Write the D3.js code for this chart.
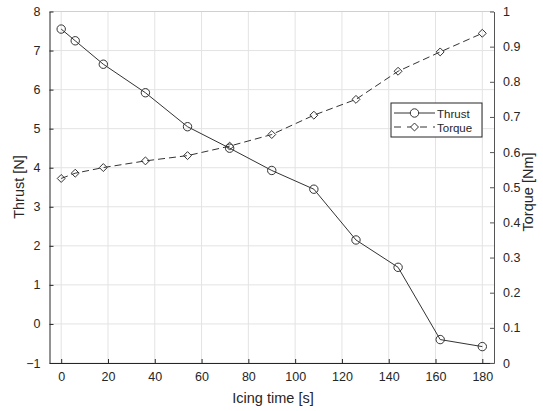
<!DOCTYPE html>
<html>
<head>
<meta charset="utf-8">
<script src="https://cdn.jsdelivr.net/npm/d3@7"></script>
<style>
  body { margin: 0; background: #fff; }
  svg { font-family: "Liberation Sans", Arial, sans-serif; }
</style>
</head>
<body>
<div id="chart"></div>
<script>
// Data
const icingTime = [0, 6, 18, 36, 54, 72, 90, 108, 126, 144, 162, 180];
const thrust = [7.55, 7.25, 6.65, 5.92, 5.05, 4.5, 3.93, 3.45, 2.15, 1.45, -0.4, -0.58];
const torque = [0.525, 0.54, 0.556, 0.575, 0.59, 0.617, 0.65, 0.705, 0.75, 0.83, 0.885, 0.938];
const xTicks = [0, 20, 40, 60, 80, 100, 120, 140, 160, 180];
const leftTicks = [-1, 0, 1, 2, 3, 4, 5, 6, 7, 8];
const rightTicks = [0, 0.1, 0.2, 0.3, 0.4, 0.5, 0.6, 0.7, 0.8, 0.9, 1];

const width = 543;
const height = 411;
const marginTop = 11.5;
const marginRight = 49;
const marginBottom = 48;
const marginLeft = 49.5;

const x = d3.scaleLinear([-5, 185], [marginLeft, width - marginRight]);
const yL = d3.scaleLinear([-1, 8], [height - marginBottom, marginTop]);
const yR = d3.scaleLinear([0, 1], [height - marginBottom, marginTop]);

const svg = d3.create("svg")
  .attr("width", width)
  .attr("height", height)
  .attr("viewBox", [0, 0, width, height]);

d3.select("#chart").append(() => svg.node());

// Grid lines
const grid = svg.append("g").attr("stroke", "#e3e3e3").attr("stroke-width", 1);
grid.selectAll("line.v").data(xTicks).join("line")
  .attr("x1", d => x(d)).attr("x2", d => x(d))
  .attr("y1", marginTop).attr("y2", height - marginBottom);
grid.selectAll("line.h").data(leftTicks).join("line")
  .attr("x1", marginLeft).attr("x2", width - marginRight)
  .attr("y1", d => yL(d)).attr("y2", d => yL(d));

// Top box line
svg.append("line")
  .attr("x1", marginLeft).attr("x2", width - marginRight)
  .attr("y1", marginTop).attr("y2", marginTop)
  .attr("stroke", "#d0d0d0");

// Axes
const tickFont = g => g.selectAll("text")
  .attr("font-size", 12.5).attr("fill", "#262626")
  .attr("font-family", "Liberation Sans, Arial, sans-serif");

svg.append("g")
  .attr("transform", `translate(0,${height - marginBottom})`)
  .call(d3.axisBottom(x).tickValues(xTicks).tickSize(-4).tickSizeOuter(0).tickPadding(9))
  .call(g => g.select(".domain").attr("stroke", "#262626"))
  .call(g => g.selectAll(".tick line").attr("stroke", "#262626"))
  .call(tickFont);

svg.append("g")
  .attr("transform", `translate(${marginLeft},0)`)
  .call(d3.axisLeft(yL).tickValues(leftTicks).tickSize(-4).tickSizeOuter(0).tickPadding(9))
  .call(g => g.select(".domain").attr("stroke", "#262626"))
  .call(g => g.selectAll(".tick line").attr("stroke", "#262626"))
  .call(tickFont);

svg.append("g")
  .attr("transform", `translate(${width - marginRight},0)`)
  .call(d3.axisRight(yR).tickValues(rightTicks).tickSize(-4).tickSizeOuter(0).tickPadding(9)
    .tickFormat(d => d === 0 || d === 1 ? d3.format("d")(d) : d3.format(".1f")(d)))
  .call(g => g.select(".domain").attr("stroke", "#555"))
  .call(g => g.selectAll(".tick line").attr("stroke", "#555"))
  .call(tickFont);

// Axis labels
svg.append("text")
  .attr("x", 273).attr("y", 403)
  .attr("text-anchor", "middle").attr("font-size", 14.5).attr("fill", "#262626")
  .text("Icing time [s]");

svg.append("text")
  .attr("transform", `translate(24,187) rotate(-90)`)
  .attr("text-anchor", "middle").attr("font-size", 14.5).attr("fill", "#262626")
  .text("Thrust [N]");

svg.append("text")
  .attr("transform", `translate(533,192) rotate(-90)`)
  .attr("text-anchor", "middle").attr("font-size", 14.5).attr("fill", "#262626")
  .text("Torque [Nm]");

// Series
const lineColor = "#333";
const thrustLine = d3.line().x((d, i) => x(icingTime[i])).y(d => yL(d));
const torqueLine = d3.line().x((d, i) => x(icingTime[i])).y(d => yR(d));

svg.append("path")
  .attr("fill", "none").attr("stroke", lineColor).attr("stroke-width", 1)
  .attr("d", thrustLine(thrust));

svg.append("path")
  .attr("fill", "none").attr("stroke", lineColor).attr("stroke-width", 1)
  .attr("stroke-dasharray", "7,4")
  .attr("d", torqueLine(torque));

svg.append("g").selectAll("circle").data(thrust).join("circle")
  .attr("cx", (d, i) => x(icingTime[i])).attr("cy", d => yL(d))
  .attr("r", 4.2).attr("fill", "none").attr("stroke", lineColor);

const diamond = d3.symbol(d3.symbolDiamond2, 40);
svg.append("g").selectAll("path").data(torque).join("path")
  .attr("transform", (d, i) => `translate(${x(icingTime[i])},${yR(d)})`)
  .attr("d", diamond()).attr("fill", "none").attr("stroke", lineColor);

// Legend
const lg = svg.append("g").attr("transform", "translate(391,103)");
lg.append("rect").attr("width", 91).attr("height", 34)
  .attr("fill", "#fff").attr("stroke", "#262626");
lg.append("line").attr("x1", 3).attr("x2", 44).attr("y1", 10).attr("y2", 10).attr("stroke", lineColor);
lg.append("circle").attr("cx", 23.5).attr("cy", 10).attr("r", 4.2).attr("fill", "#fff").attr("stroke", lineColor);
lg.append("line").attr("x1", 3).attr("x2", 44).attr("y1", 24).attr("y2", 24)
  .attr("stroke", lineColor).attr("stroke-dasharray", "7,6");
lg.append("path").attr("transform", "translate(23.5,24)").attr("d", diamond())
  .attr("fill", "#fff").attr("stroke", lineColor);
lg.append("text").attr("x", 46).attr("y", 14.5).attr("font-size", 11.5).attr("fill", "#262626").text("Thrust");
lg.append("text").attr("x", 46).attr("y", 28.5).attr("font-size", 11.5).attr("fill", "#262626").text("Torque");
</script>
</body>
</html>
